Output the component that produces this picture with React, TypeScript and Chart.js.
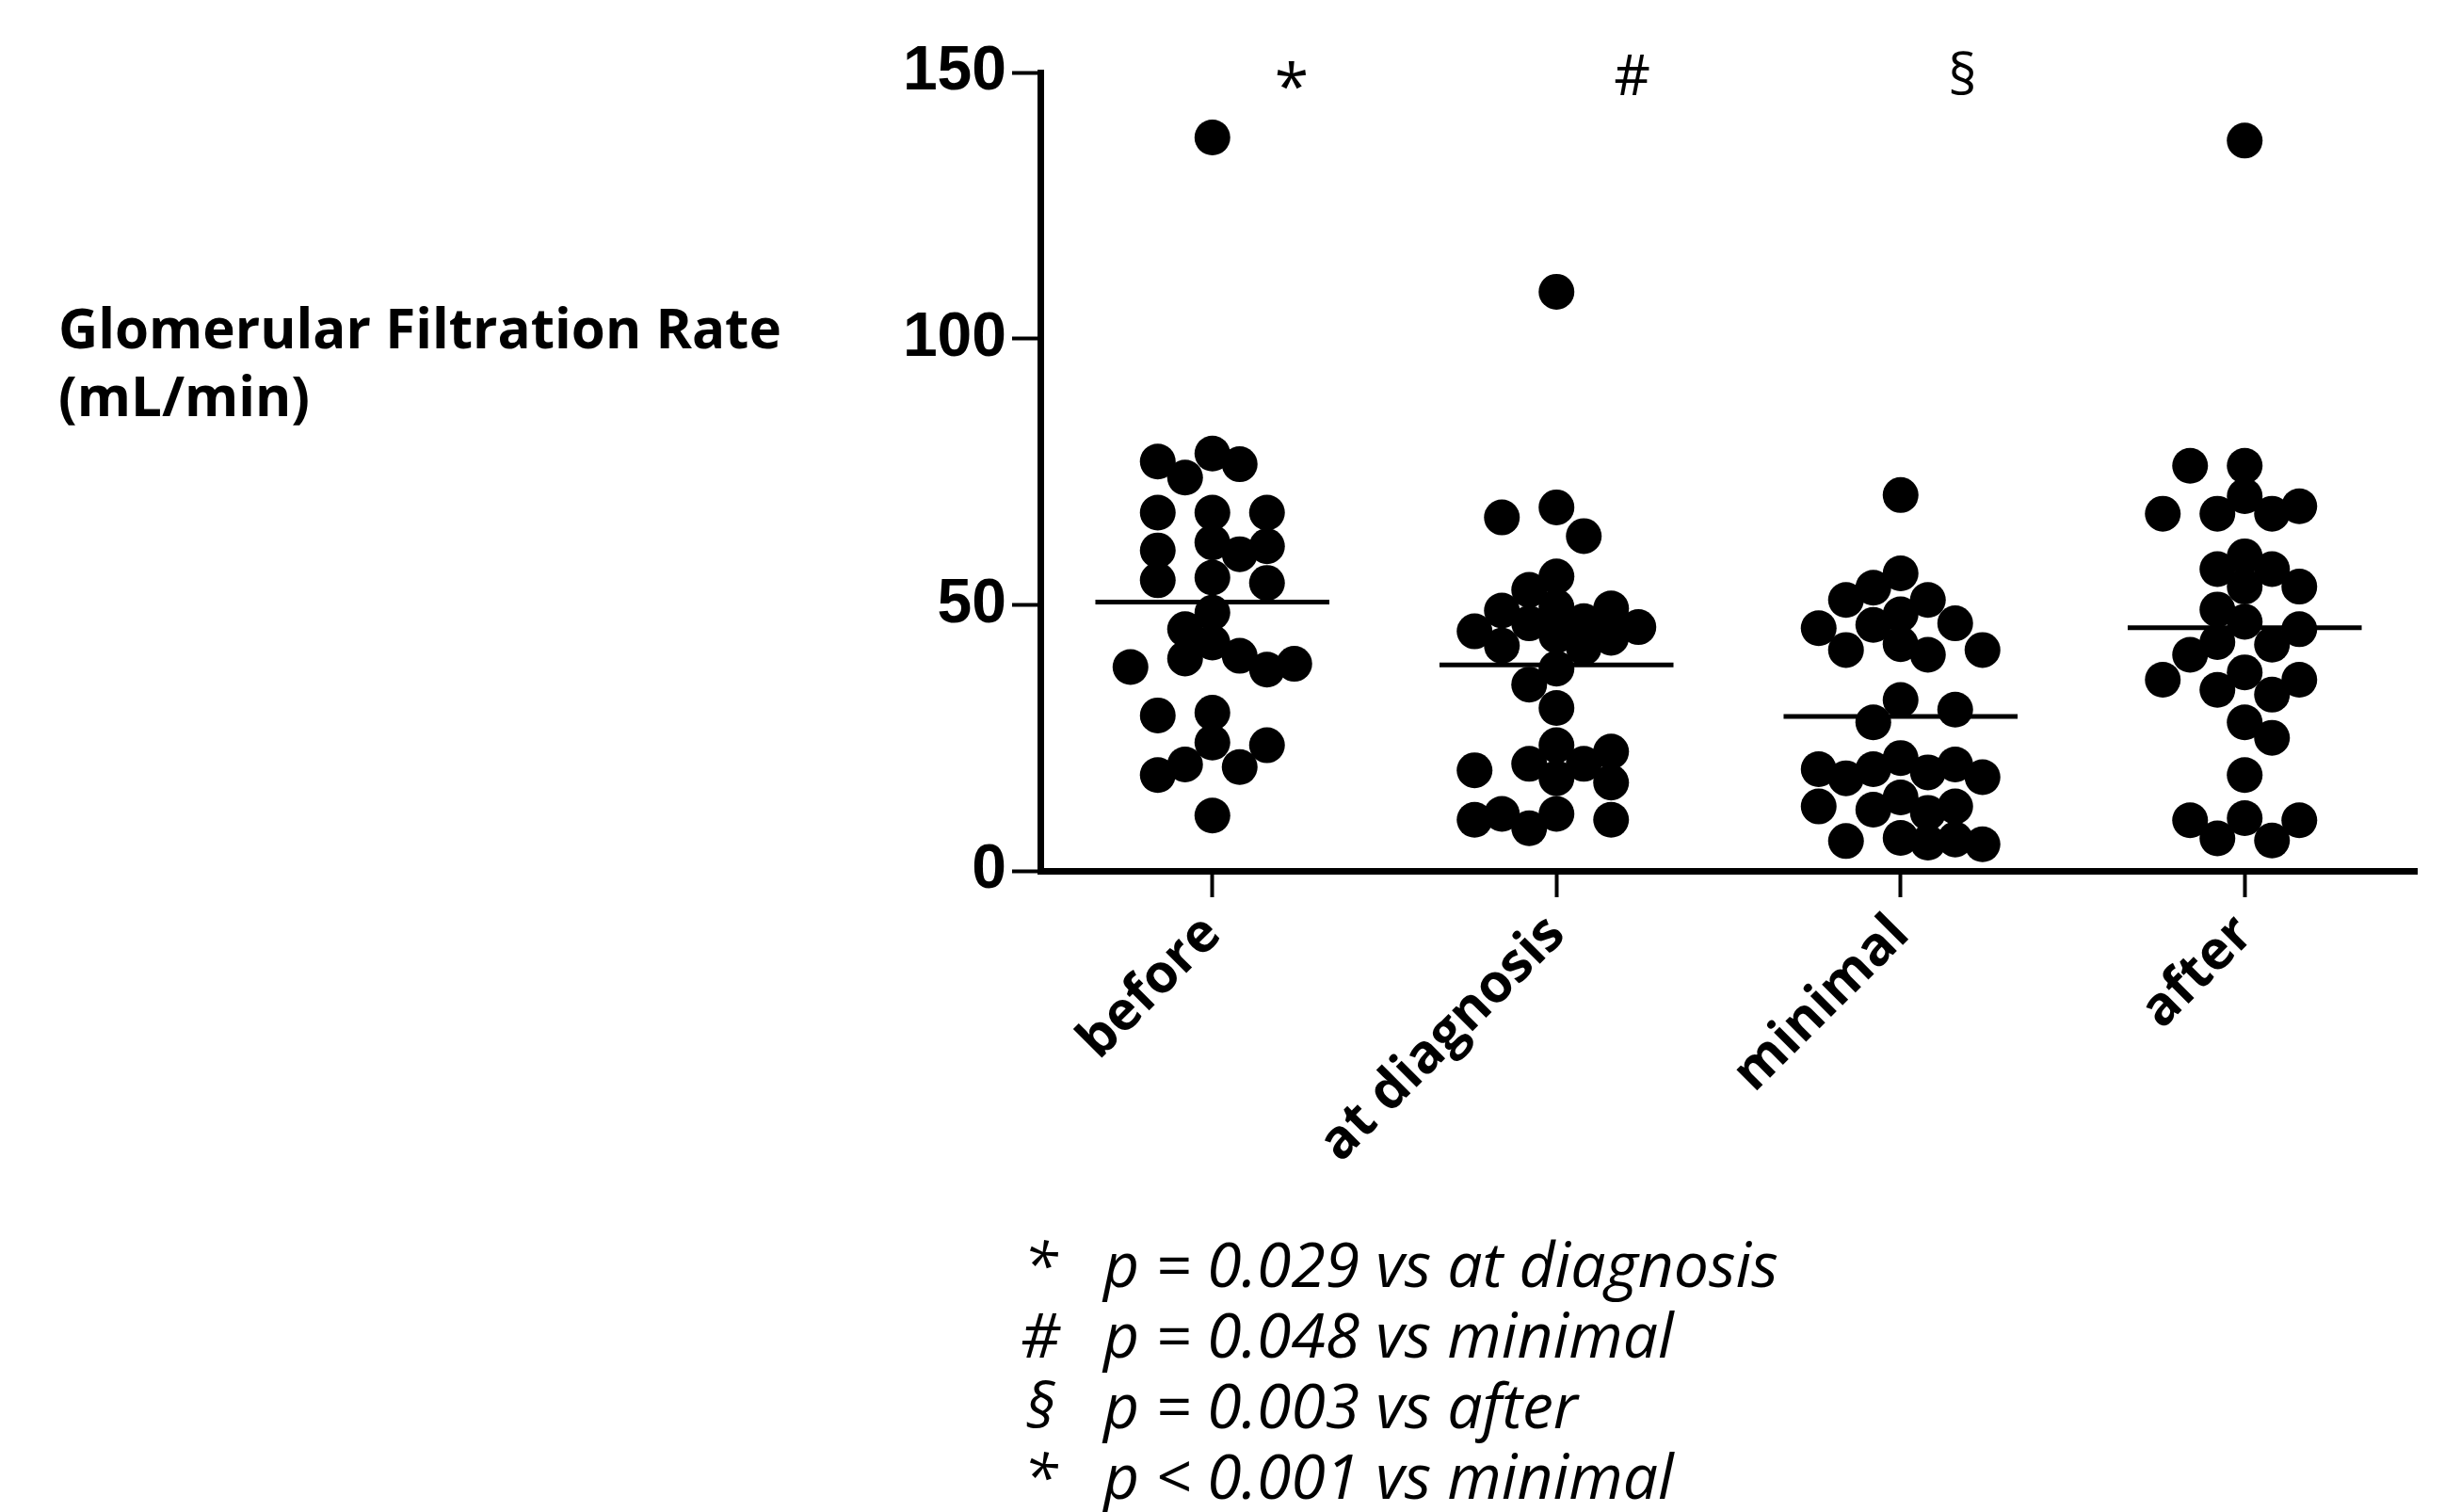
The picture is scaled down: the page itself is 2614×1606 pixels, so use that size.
import React, { useEffect, useRef } from 'react';
import { Chart, registerables } from 'chart.js';

Chart.register(...registerables);

// ---------- data ----------
const categories = ['before', 'at diagnosis', 'minimal', 'after'];

const beforeValues = [137.8, 78.4, 76.4, 76.9, 73.9, 67.3, 67.3, 67.3, 61.7, 60.2, 61.0, 59.5, 55.1, 54.1, 54.6, 48.5, 45.4, 39.9, 38.9, 40.4, 38.3, 37.8, 42.9, 29.7, 29.2, 24.1, 23.6, 20.0, 19.5, 18.0, 10.4];
const atDiagnosisValues = [108.8, 66.4, 68.3, 62.9, 55.3, 49.3, 45.0, 41.9, 45.8, 52.8, 48.9, 46.5, 42.3, 44.2, 49.6, 46.9, 43.8, 38.0, 35.0, 30.6, 22.4, 23.6, 17.4, 20.1, 18.9, 20.1, 16.6, 9.6, 10.7, 8.0, 10.7, 9.6];
const minimalValues = [70.6, 55.9, 53.2, 50.9, 50.9, 48.2, 46.2, 46.5, 42.6, 41.5, 40.6, 45.6, 41.5, 32.1, 27.9, 30.3, 20.0, 17.6, 19.1, 17.4, 19.1, 18.5, 21.2, 11.5, 12.1, 12.1, 10.9, 13.8, 5.6, 6.2, 5.0, 5.9, 5.3];
const afterValues = [137.2, 76.1, 76.1, 70.4, 67.1, 67.1, 68.5, 67.1, 59.1, 56.7, 56.7, 53.4, 53.4, 49.1, 46.8, 45.4, 43.0, 42.5, 40.6, 37.3, 35.9, 35.9, 34.0, 33.1, 27.9, 25.0, 18.0, 9.9, 9.5, 9.5, 5.7, 6.1];

const meanValues = [50.5, 38.7, 29.0, 45.7];

const yTickValues = [0, 50, 100, 150];

const yTitleLines = ['Glomerular Filtration Rate', '(mL/min)'];
const significanceMarks = ['*', '#', '§'];
const footnoteSymbols = ['*', '#', '§', '*'];
const footnoteTexts = [
  'p = 0.029 vs at diagnosis',
  'p = 0.048 vs minimal',
  'p = 0.003 vs after',
  'p < 0.001 vs minimal',
];

// ---------- layout / style constants ----------
const W = 2614;
const H = 1606;
const PLOT_LEFT = 1105;
const PLOT_RIGHT = 2567;
const PLOT_TOP = 77;
const PLOT_BOTTOM = 925;
const POINT_R = 19;
const COL_STEP_PX = 29;
const MIN_DIST_PX = 31;
const MAX_COL = 3;
const MEAN_HALF_WIDTH = 0.34;
const MARK_X = [0.23, 1.22, 2.18];
const MARK_BASE_OFFSET = [38, 24, 24];

// simple beeswarm: spread points sideways in columns so they don't stack
function swarm(values: number[], center: number) {
  const pxPerUnit = (PLOT_BOTTOM - PLOT_TOP) / 150;
  const pxPerCat = (PLOT_RIGHT - PLOT_LEFT) / 4;
  const order = values.map((_, i) => i).sort((a, b) => values[b] - values[a]);
  const placed: { c: number; v: number }[] = [];
  const out: { x: number; y: number }[] = values.map((v) => ({ x: center, y: v }));
  const nearest = (c: number, v: number) => {
    let best = Infinity;
    for (const p of placed) {
      const dx = (p.c - c) * COL_STEP_PX;
      const dy = (p.v - v) * pxPerUnit;
      best = Math.min(best, Math.sqrt(dx * dx + dy * dy));
    }
    return best;
  };
  const fits = (c: number, v: number) => nearest(c, v) >= MIN_DIST_PX;
  let leftCount = 0;
  let rightCount = 0;
  for (const i of order) {
    const v = values[i];
    let chosen: number | null = fits(0, v) ? 0 : null;
    if (chosen === null) {
      for (let k = 1; k <= MAX_COL && chosen === null; k++) {
        const first = leftCount <= rightCount ? -k : k;
        if (fits(first, v)) chosen = first;
        else if (fits(-first, v)) chosen = -first;
      }
    }
    if (chosen === null) {
      // no free slot within the allowed width: take the least crowded column
      let bestC = 0;
      let bestD = -1;
      for (let c = -MAX_COL; c <= MAX_COL; c++) {
        const d = nearest(c, v);
        if (d > bestD) { bestD = d; bestC = c; }
      }
      chosen = bestC;
    }
    if (chosen < 0) leftCount++;
    if (chosen > 0) rightCount++;
    placed.push({ c: chosen, v });
    out[i] = { x: center + (chosen * COL_STEP_PX) / pxPerCat, y: v };
  }
  return out;
}

const textPlugin = {
  id: 'texts',
  afterDraw(chart: any) {
    const ctx = chart.ctx as CanvasRenderingContext2D;
    const xs = chart.scales && chart.scales.x;
    const ys = chart.scales && chart.scales.y;
    ctx.save();
    ctx.fillStyle = '#000';

    // y-axis title (horizontal, at the left)
    ctx.textAlign = 'left';
    ctx.textBaseline = 'alphabetic';
    ctx.font = 'bold 60px "Open Sans"';
    let w = ctx.measureText(yTitleLines[0]).width || 768;
    const titleSize = Math.min(66, Math.max(50, (60 * 768) / w));
    ctx.font = `bold ${titleSize}px "Open Sans"`;
    ctx.fillText(yTitleLines[0], 62, 370);
    ctx.fillText(yTitleLines[1], 62, 442);

    // significance marks above the plot
    if (xs && ys) {
      ctx.textAlign = 'center';
      significanceMarks.forEach((m, i) => {
        ctx.font = m === '*' ? '66px "Open Sans"' : '60px "Open Sans"';
        const px = xs.getPixelForValue(MARK_X[i]);
        const py = ys.getPixelForValue(150) + MARK_BASE_OFFSET[i];
        ctx.fillText(m, px, py);
      });
    }

    // footnotes
    ctx.font = 'italic 60px "Open Sans"';
    w = ctx.measureText(footnoteTexts[0]).width || 725;
    const fnSize = Math.min(66, Math.max(48, (60 * 722) / w));
    ctx.font = `italic ${fnSize}px "Open Sans"`;
    footnoteTexts.forEach((t, i) => {
      const base = 1367 + i * 75;
      ctx.textAlign = 'center';
      ctx.fillText(footnoteSymbols[i], 1105, base);
      ctx.textAlign = 'left';
      ctx.fillText(t, 1172, base);
    });
    ctx.restore();
  },
};

export default function App() {
  const canvasRef = useRef<HTMLCanvasElement | null>(null);

  useEffect(() => {
    const canvas = canvasRef.current;
    if (!canvas) return;
    const groups = [beforeValues, atDiagnosisValues, minimalValues, afterValues];

    const scatterSets = groups.map((vals, gi) => ({
      type: 'scatter',
      label: categories[gi],
      data: swarm(vals, gi),
      backgroundColor: '#000',
      borderColor: '#000',
      borderWidth: 0,
      pointRadius: POINT_R,
      pointHoverRadius: POINT_R,
      showLine: false,
      order: 2,
    }));

    const meanSets = meanValues.map((m, gi) => ({
      type: 'scatter',
      label: `mean ${categories[gi]}`,
      data: [
        { x: gi - MEAN_HALF_WIDTH, y: m },
        { x: gi + MEAN_HALF_WIDTH, y: m },
      ],
      showLine: true,
      borderColor: '#000',
      backgroundColor: '#000',
      borderWidth: 5,
      pointRadius: 0,
      fill: false,
      order: 1,
    }));

    const chart = new Chart(canvas, {
      type: 'scatter',
      data: { datasets: [...scatterSets, ...meanSets] as any },
      options: {
        responsive: false,
        animation: false,
        events: [],
        layout: { padding: { top: PLOT_TOP, right: W - PLOT_RIGHT, left: 0, bottom: 0 } },
        plugins: {
          legend: { display: false },
          tooltip: { enabled: false },
          title: { display: false },
        },
        scales: {
          x: {
            type: 'linear',
            min: -0.5,
            max: 3.5,
            afterBuildTicks: (axis: any) => {
              axis.ticks = categories.map((_, i) => ({ value: i }));
            },
            afterFit: (axis: any) => {
              axis.height = H - PLOT_BOTTOM;
            },
            ticks: {
              autoSkip: false,
              maxRotation: 45,
              minRotation: 45,
              padding: 6,
              color: '#000',
              font: { family: '"Open Sans"', weight: 'bold', size: 57 },
              callback: (v: any) => categories[Math.round(Number(v))] ?? '',
            },
            grid: {
              display: true,
              drawOnChartArea: false,
              drawTicks: true,
              tickLength: 28,
              tickWidth: 4,
              tickColor: '#000',
            },
            border: { display: true, color: '#000', width: 7 },
          },
          y: {
            type: 'linear',
            min: 0,
            max: 150,
            afterBuildTicks: (axis: any) => {
              axis.ticks = yTickValues.map((v) => ({ value: v }));
            },
            afterFit: (axis: any) => {
              axis.width = PLOT_LEFT;
            },
            ticks: {
              padding: 6,
              color: '#000',
              font: { family: '"Liberation Sans", Arial, sans-serif', weight: 'bold', size: 66 },
            },
            grid: {
              display: true,
              drawOnChartArea: false,
              drawTicks: true,
              tickLength: 30,
              tickWidth: 4,
              tickColor: '#000',
            },
            border: { display: true, color: '#000', width: 7 },
          },
        },
      } as any,
      plugins: [textPlugin],
    });

    return () => chart.destroy();
  }, []);

  return (
    <div style={{ position: 'absolute', left: 0, top: 0, width: W, height: H, background: '#fff' }}>
      <canvas ref={canvasRef} width={W} height={H} style={{ display: 'block', width: W, height: H }} />
    </div>
  );
}
